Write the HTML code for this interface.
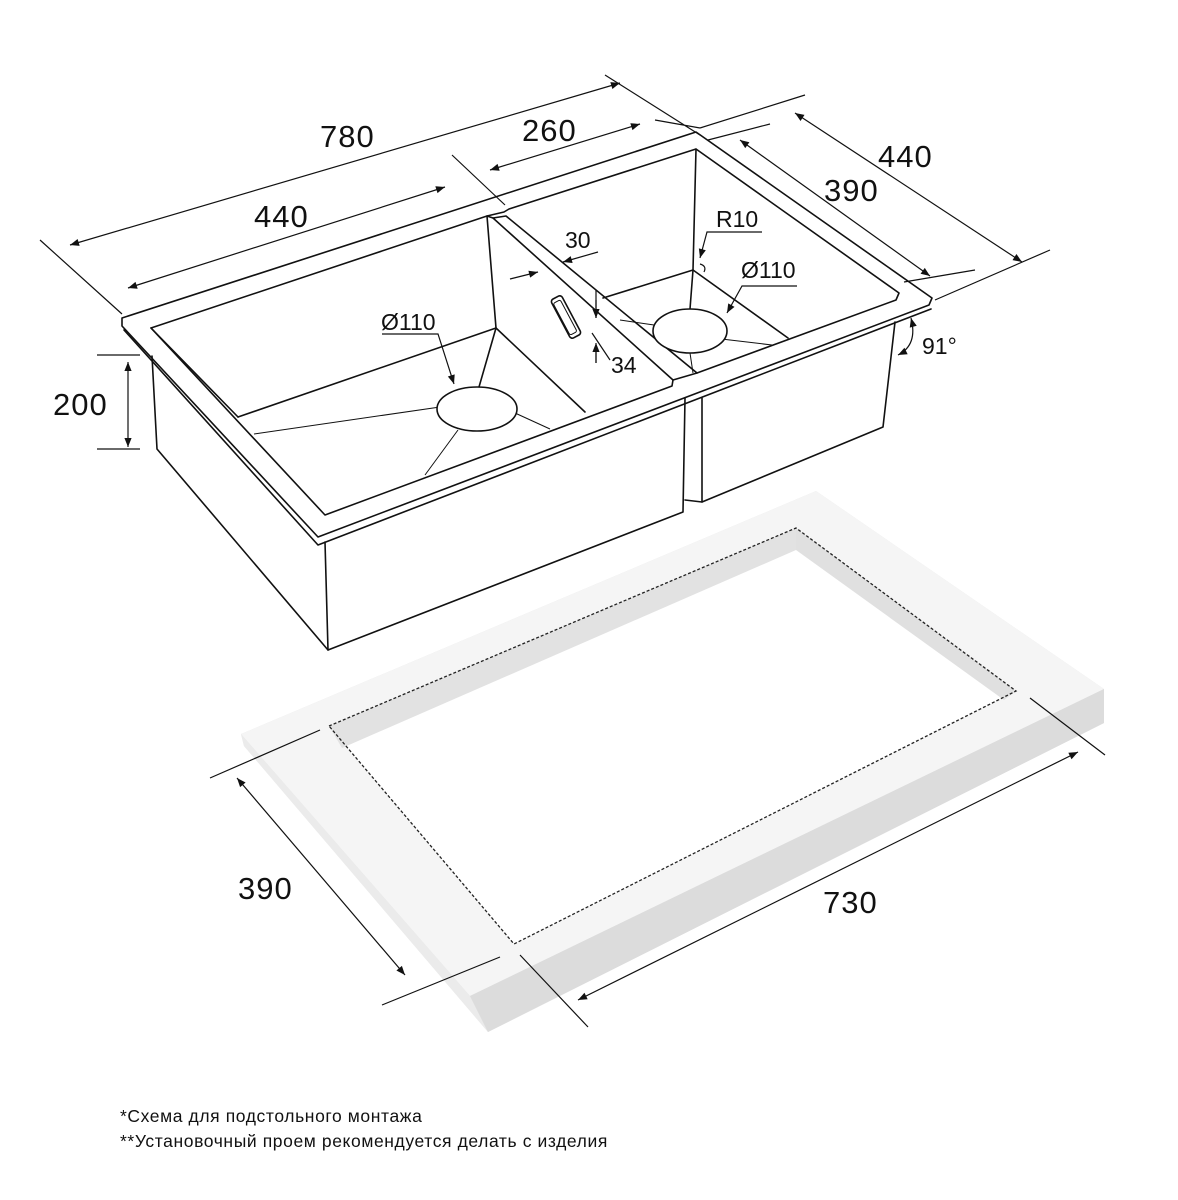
<!DOCTYPE html>
<html><head><meta charset="utf-8"><style>
html,body{margin:0;padding:0;background:#fff;}
svg{display:block;}
text{font-family:"Liberation Sans",sans-serif;fill:#111;}
</style></head><body>
<svg width="1178" height="1200" viewBox="0 0 1178 1200" xmlns="http://www.w3.org/2000/svg">
<defs>
<marker id="a" viewBox="0 0 10 10" refX="10" refY="5" markerWidth="12" markerHeight="9" orient="auto-start-reverse" markerUnits="userSpaceOnUse"><path d="M0,1 L10,5 L0,9 Z" fill="#111"/></marker>
</defs>

<!-- countertop -->
<polygon points="816,491 1104,689 1104,723 488,1032 244,746 241,734" fill="#e4e4e4"/>
<polygon points="816,491 1104,689 470,996 241,734" fill="#f5f5f5"/>
<polygon points="241,734 470,996 488,1032 244,746" fill="#ebebeb"/>
<polygon points="470,996 1104,689 1104,723 488,1032" fill="#dcdcdc"/>
<polygon points="329,726 796,528 1016,691 514,944" fill="#fff"/>
<polygon points="329,726 796,528 796,550 342,748" fill="#e2e2e2"/>
<polygon points="796,528 1016,691 1004,700 796,550" fill="#e0e0e0"/>
<polygon points="329,726 796,528 1016,691 514,944" fill="none" stroke="#222" stroke-width="1.3" stroke-dasharray="3,2"/>

<g fill="none" stroke="#111" stroke-width="1.6" stroke-linejoin="round" stroke-linecap="round">
<path d="M152,356 L157,449 L328,650 L325,542"/>
<path d="M328,650 L683,512 L685,398"/>
<path d="M702,398 L702,502 L883,427 L895,322"/>
<path d="M685,500 L702,502"/>
<path d="M122,318 L696,132 L932,298 L929,305 L318,537 L122,326 Z"/>
<path d="M124,330 L318,545 L931,309"/>
<path d="M151,328 L487,216 L493,218 L673,380 L672,386 L325,515 Z"/>
<path d="M487,216 L504,212 L509,209 L696,149 L899,293 L896,300 L697,373 L673,380"/>
<path d="M493,218 L506,216 L697,373"/>
<path d="M696,149 L693,270"/>
<path d="M487,216 L496,328"/>
<path d="M238,417 L496,328 L585,412"/>
<path d="M151,328 L238,417"/>
<path d="M496,328 L479,387"/>
<path d="M603,298 L693,270 L788,338"/>
<path d="M693,270 L690,309"/>
<rect x="560" y="295" width="12" height="44" rx="3" transform="rotate(-28 566 317)"/>
</g>
<g fill="none" stroke="#111" stroke-width="1">
<path d="M254,434 L440,407 M515,413 L550,429 M458,430 L425,475 M690,353 L693,373 M713,338 L772,345 M654,325 L620,320"/>
<rect x="561" y="299" width="8" height="36" rx="2" transform="rotate(-28 566 317)"/>
</g>
<ellipse cx="477" cy="409" rx="40" ry="22" fill="#fff" stroke="#111" stroke-width="1.6"/>
<ellipse cx="690" cy="331" rx="37" ry="22" fill="#fff" stroke="#111" stroke-width="1.6"/>

<g fill="none" stroke="#111" stroke-width="1.2">
<path d="M40,240 L122,314 M605,75 L700,135 M452,155 L505,205 M655,120 L700,128"/>
<path d="M70,245 L620,83" marker-start="url(#a)" marker-end="url(#a)"/>
<path d="M128,288 L445,187" marker-start="url(#a)" marker-end="url(#a)"/>
<path d="M490,170 L640,124" marker-start="url(#a)" marker-end="url(#a)"/>
<path d="M700,128 L805,95 M935,300 L1050,250 M708,140 L770,124 M904,282 L975,270"/>
<path d="M795,113 L1022,262" marker-start="url(#a)" marker-end="url(#a)"/>
<path d="M740,140 L930,276" marker-start="url(#a)" marker-end="url(#a)"/>
<path d="M97,355 L140,355 M97,449 L140,449"/>
<path d="M128,362 L128,447" marker-start="url(#a)" marker-end="url(#a)"/>
<path d="M510,279 L538,272" marker-end="url(#a)"/>
<path d="M598,252 L563,262" marker-end="url(#a)"/>
<path d="M596,290 L596,318 M596,345 L596,363"/>
<path d="M596,300 L596,318" marker-end="url(#a)"/>
<path d="M596,363 L596,343" marker-end="url(#a)"/>
<path d="M610,360 L592,333"/>
<path d="M382,334 L438,334 L454,384" marker-end="url(#a)"/>
<path d="M797,286 L742,286 L727,313" marker-end="url(#a)"/>
<path d="M762,232 L707,232 L700,258" marker-end="url(#a)"/>
<path d="M700,264 Q707,266 704,272"/>
<path d="M898,355 Q918,345 911,318" marker-start="url(#a)" marker-end="url(#a)"/>
<path d="M210,778 L320,730 M382,1005 L500,957 M1030,698 L1105,755 M520,955 L588,1027"/>
<path d="M237,778 L405,975" marker-start="url(#a)" marker-end="url(#a)"/>
<path d="M578,1000 L1078,752" marker-start="url(#a)" marker-end="url(#a)"/>
</g>

<g font-size="31" letter-spacing="1">
<text x="320" y="147">780</text>
<text x="254" y="227">440</text>
<text x="522" y="141">260</text>
<text x="878" y="167">440</text>
<text x="824" y="201">390</text>
<text x="53" y="415">200</text>
<text x="238" y="899">390</text>
<text x="823" y="913">730</text>
</g>
<g font-size="23">
<text x="565" y="248">30</text>
<text x="611" y="373">34</text>
<text x="716" y="227">R10</text>
<text x="741" y="278">Ø110</text>
<text x="381" y="330">Ø110</text>
<text x="922" y="354">91°</text>
</g>
<g font-size="17.5" letter-spacing="0.6">
<text x="120" y="1122">*Схема для подстольного монтажа</text>
<text x="120" y="1147">**Установочный проем рекомендуется делать с изделия</text>
</g>
</svg>
</body></html>
